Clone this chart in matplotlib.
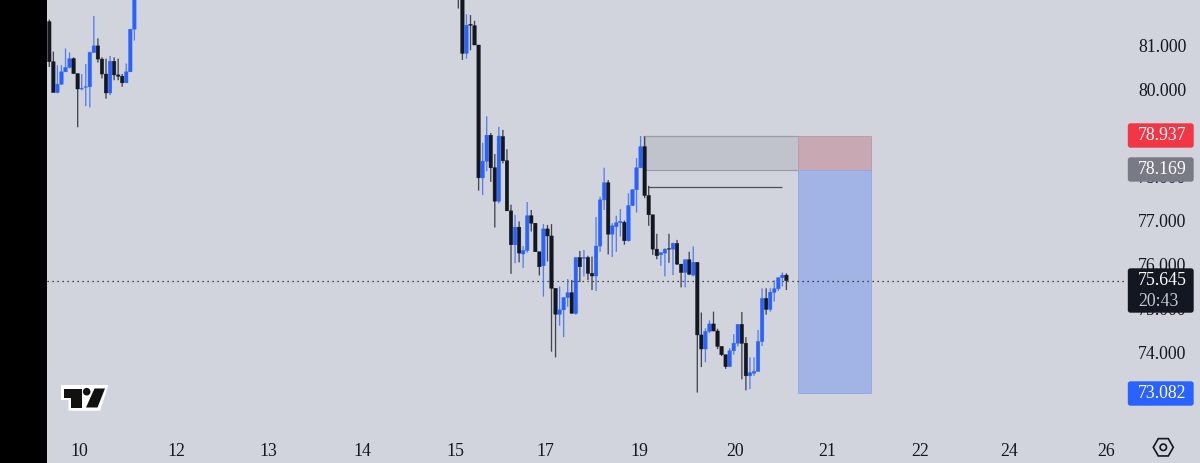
# plot.py
# Oil style candle chart with a short position drawn on top, TradingView look

import matplotlib
matplotlib.use("Agg")
import matplotlib.pyplot as plt
from matplotlib.patches import Circle, FancyBboxPatch, Polygon, Rectangle, RegularPolygon
from matplotlib.transforms import IdentityTransform
import numpy as np

BG = "#d1d4dc"
BLUE = "#2962ff"
DARK = "#131722"
W, H = 1200, 463

plt.rcParams["font.family"] = ["Liberation Serif", "DejaVu Serif"]

# first visible stretch of candles
OPEN_A = [81.53, 80.62, 79.92, 80.11, 80.39, 80.49, 80.69, 80.35, 80.00, 80.04, 80.05,
          80.83, 80.98, 80.68, 80.34, 79.91, 80.63, 80.32, 80.29, 80.14, 80.39, 81.36]
HIGH_A = [81.58, 80.85, 80.54, 80.54, 80.92, 80.83, 80.72, 80.35, 80.34, 80.57, 80.85,
          81.66, 81.15, 80.72, 80.69, 80.75, 80.72, 80.69, 80.34, 80.58, 81.36, 82.40]
LOW_A = [80.50, 79.92, 79.90, 80.09, 80.39, 80.47, 80.34, 79.13, 79.97, 79.61, 79.58,
         80.83, 80.60, 80.24, 79.78, 79.86, 80.20, 80.20, 80.05, 80.14, 80.39, 81.10]
CLOSE_A = [80.62, 79.92, 80.11, 80.39, 80.49, 80.69, 80.35, 80.00, 80.01, 80.05, 80.83,
           80.98, 80.68, 80.34, 79.91, 80.63, 80.32, 80.29, 80.14, 80.39, 81.36, 82.30]

# second stretch, the bars in between are above the visible range
START_B = 101
OPEN_B = [82.40, 82.20, 80.81, 81.47, 81.44, 81.00, 77.98, 78.36, 78.95, 78.21, 77.45,
          78.92, 78.37, 77.23, 76.46, 76.86, 76.25, 76.33, 77.12, 76.95, 76.30, 75.98,
          76.82, 76.66, 75.47, 74.88, 74.98, 75.26, 75.37, 74.90, 76.17, 76.15, 76.17,
          75.81, 75.75, 76.43, 77.48, 77.87, 76.70, 76.87, 76.96, 76.97, 76.55, 77.35,
          77.71, 78.21, 78.69, 77.58, 77.14, 76.36, 76.23, 76.27, 76.37, 76.36, 76.49,
          76.02, 75.83, 76.12, 75.77, 76.06, 74.41, 74.09, 74.49, 74.66, 74.50, 74.15,
          73.96, 73.69, 74.05, 74.22, 74.65, 74.22, 73.48, 73.54, 73.58, 74.26, 75.24,
          74.99, 75.38, 75.46, 75.71, 75.77]
HIGH_B = [82.50, 82.40, 81.70, 81.68, 81.55, 81.00, 78.78, 79.38, 79.00, 78.52, 79.14,
          79.07, 78.63, 77.37, 77.14, 76.99, 76.43, 77.43, 77.25, 76.95, 76.30, 76.93,
          76.91, 76.93, 75.47, 75.51, 75.26, 75.68, 75.66, 76.17, 76.32, 76.34, 76.21,
          76.19, 77.09, 77.55, 78.21, 77.93, 76.95, 77.12, 77.27, 77.01, 77.63, 77.72,
          78.43, 78.93, 78.92, 77.80, 77.14, 76.71, 76.28, 76.38, 76.71, 76.51, 76.57,
          76.02, 76.12, 76.30, 76.42, 76.06, 74.92, 74.56, 74.74, 74.94, 74.55, 74.15,
          73.96, 74.11, 74.43, 74.65, 74.93, 74.36, 73.90, 73.90, 74.52, 75.47, 75.47,
          75.47, 75.65, 75.71, 75.83, 75.81]
LOW_B = [81.83, 80.66, 80.69, 80.88, 81.00, 77.69, 77.59, 78.13, 77.89, 76.85, 77.40,
         78.31, 77.23, 75.80, 76.04, 76.06, 75.93, 76.28, 76.76, 76.30, 75.76, 75.28,
         76.08, 74.03, 73.90, 74.62, 74.36, 75.05, 74.90, 74.87, 75.61, 75.74, 75.66,
         75.43, 75.41, 76.30, 77.25, 76.24, 76.18, 76.30, 76.65, 76.46, 76.53, 77.34,
         77.19, 78.20, 77.52, 76.89, 76.23, 76.13, 75.98, 75.74, 76.05, 75.77, 76.00,
         75.49, 75.49, 75.77, 75.74, 73.10, 73.68, 73.79, 74.45, 74.49, 74.09, 73.93,
         73.64, 73.69, 73.96, 74.15, 73.40, 73.15, 73.18, 73.48, 73.58, 74.16, 74.87,
         74.94, 75.17, 75.41, 75.51, 75.43]
CLOSE_B = [82.20, 80.81, 81.45, 81.45, 81.00, 77.98, 78.36, 78.95, 78.21, 77.45, 78.93,
           78.37, 77.23, 76.46, 76.86, 76.27, 76.33, 77.12, 76.95, 76.30, 75.96, 76.82,
           76.66, 75.47, 74.88, 74.98, 75.26, 75.37, 74.90, 76.17, 75.96, 76.17, 75.81,
           75.75, 76.43, 77.48, 77.87, 76.70, 76.89, 76.96, 76.99, 76.55, 77.35, 77.71,
           78.21, 78.69, 77.58, 77.14, 76.36, 76.21, 76.28, 76.36, 76.36, 76.49, 76.02,
           75.83, 76.12, 75.79, 76.06, 74.41, 74.09, 74.49, 74.66, 74.50, 74.15, 73.96,
           73.69, 74.05, 74.22, 74.65, 74.22, 73.48, 73.55, 73.58, 74.26, 75.24, 74.99,
           75.38, 75.46, 75.71, 75.77, 75.645]

PRICE_TICKS = [74, 75, 76, 77, 78, 79, 80, 81]
DATE_TICKS = [7.3, 31.3, 54.2, 77.2, 100.2, 122.4, 145.8, 169.3, 192, 215, 237, 260.9]
DATE_LABELS = ["10", "12", "13", "14", "15", "17", "19", "20", "21", "22", "24", "26"]

ENTRY = 78.169
STOP = 78.937
TARGET = 73.082
LAST = 75.645
LEVEL = 77.78


def px(x, y):
    # picture pixels (top left origin) to display coords
    return x, H - y


def draw_candles(ax, start, o, h, l, c):
    o, h, l, c = map(np.array, (o, h, l, c))
    x = start + np.arange(len(o))
    colors = [BLUE if b >= a else DARK for a, b in zip(o, c)]
    wicks = ax.vlines(x, l, h, colors=colors, linewidth=0.95, alpha=0.75, zorder=3)
    wicks.set_snap(False)
    bars = ax.bar(x, np.abs(c - o), bottom=np.minimum(o, c), width=0.86, color=colors,
                  edgecolor=colors, linewidth=0.3, zorder=4)
    for b in bars:
        b.set_snap(False)


def price_tag(y0, y1, color, label, text_y, sub=None):
    fig.add_artist(FancyBboxPatch(px(1128.5, y1), 64.5, y1 - y0 - 1,
                                  boxstyle="round,pad=0,rounding_size=2", mutation_aspect=1,
                                  transform=IdentityTransform(), facecolor=color,
                                  edgecolor=color, linewidth=1, zorder=5))
    fig.text(1138 / W, 1 - text_y / H, label, color="white", fontsize=12.8,
             va="center", ha="left", zorder=6)
    if sub:
        fig.text(1138 / W, 1 - (text_y + 21) / H, sub, color="#c3c6cf", fontsize=12.8,
                 va="center", ha="left", zorder=6)


fig = plt.figure(figsize=(W / 100, H / 100), dpi=100, facecolor=BG)
ax = fig.add_axes([47 / W, (H - 426) / H, 1080 / W, 426 / H], facecolor=BG)
ax.set_xlim(-0.57, 266.1)
ax.set_ylim(72.34, 82.023)
for spine in ax.spines.values():
    spine.set_visible(False)

ax.yaxis.tick_right()
ax.set_yticks(PRICE_TICKS)
ax.set_yticklabels([f"{p:.3f}" for p in PRICE_TICKS])
ax.tick_params(axis="y", length=0, pad=8, labelsize=12.8, labelcolor=DARK)
ax.set_xticks(DATE_TICKS)
ax.set_xticklabels(DATE_LABELS)
ax.tick_params(axis="x", length=0, pad=12, labelsize=12.8, labelcolor=DARK)

# position tool
ax.add_patch(Rectangle((146.6, ENTRY), 38.3, STOP - ENTRY, facecolor="#787b86", alpha=0.18,
                       edgecolor="none", zorder=1))
ax.hlines([ENTRY, STOP], 146.6, 184.9, colors="#9b9ea7", linewidth=0.9, zorder=1)
ax.add_patch(Rectangle((184.9, ENTRY), 18.1, STOP - ENTRY, facecolor="#c8a9b3",
                       edgecolor="#b59aa4", linewidth=0.6, zorder=1))
ax.add_patch(Rectangle((184.9, TARGET), 18.1, ENTRY - TARGET, facecolor="#a2b4e6",
                       edgecolor="#8fa6e6", linewidth=0.6, zorder=1))

ax.hlines(LEVEL, 147.8, 181, colors="#4c505c", linewidth=0.9, zorder=2)
ax.axhline(LAST, color=DARK, linewidth=0.9, linestyle=(0, (1, 3)), zorder=2)

draw_candles(ax, 0, OPEN_A, HIGH_A, LOW_A, CLOSE_A)
draw_candles(ax, START_B, OPEN_B, HIGH_B, LOW_B, CLOSE_B)

# black strip on the left edge
fig.add_artist(Rectangle((0, 0), 47, H, transform=IdentityTransform(), facecolor="black",
                         edgecolor="none", zorder=4))

price_tag(123, 147, "#f23645", f"{STOP:.3f}", 135.5)
price_tag(157, 181, "#787b86", f"{ENTRY:.3f}", 169.5)
price_tag(268, 312, DARK, f"{LAST:.3f}", 280.5, sub="20:43")
price_tag(381, 405, BLUE, f"{TARGET:.3f}", 393.5)

# TradingView mark
logo_back = [(61, 385), (108.5, 385), (100, 410.7), (68.5, 410.7), (68.5, 400), (61, 400)]
logo_t = [(63.5, 388.5), (81.5, 388.5), (81.5, 407.5), (70.5, 407.5), (70.5, 397.5), (63.5, 397.5)]
logo_slash = [(94.5, 388.5), (105, 388.5), (97.5, 407.5), (86, 407.5)]
fig.add_artist(Polygon([px(*p) for p in logo_back], transform=IdentityTransform(), facecolor="white",
                       edgecolor="none", zorder=4))
for pts in (logo_t, logo_slash):
    fig.add_artist(Polygon([px(*p) for p in pts], transform=IdentityTransform(), facecolor="#111111",
                           edgecolor="none", zorder=4.5))
fig.add_artist(Circle(px(86.7, 391.7), 3.8, transform=IdentityTransform(), facecolor="#111111",
                      edgecolor="none", zorder=4.5))

# settings button
fig.add_artist(RegularPolygon(px(1163.3, 447.3), 6, radius=10, orientation=np.pi / 6,
                              transform=IdentityTransform(), facecolor="none", edgecolor=DARK,
                              linewidth=1.2, zorder=4))
fig.add_artist(Circle(px(1163.3, 447.3), 3.2, transform=IdentityTransform(), facecolor="none",
                      edgecolor=DARK, linewidth=1.2, zorder=4))

fig.savefig("out.png", dpi=100, facecolor=BG)
